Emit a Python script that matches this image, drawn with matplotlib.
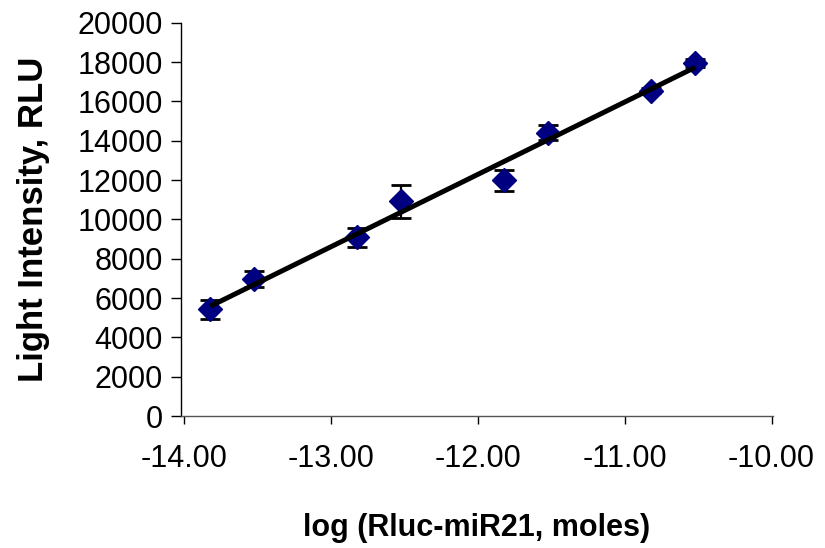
import numpy as np
import matplotlib
matplotlib.use("Agg")
import matplotlib.pyplot as plt

# Data
log_moles = [-13.82, -13.52, -12.82, -12.52, -11.82, -11.52, -10.82, -10.52]
intensity = [5420, 6950, 9080, 10930, 11980, 14400, 16540, 17960]
errors = [500, 400, 500, 840, 530, 390, 120, 200]
x_ticks = [-14.0, -13.0, -12.0, -11.0, -10.0]
y_ticks = [0, 2000, 4000, 6000, 8000, 10000, 12000, 14000, 16000, 18000, 20000]

plt.rcParams['font.family'] = ['Liberation Sans', 'DejaVu Sans']

fig = plt.figure(figsize=(8.25, 5.48), dpi=100)
ax = fig.add_axes([181/825, 132/548, (773-181)/825, (416-22.7)/548])

ax.errorbar(log_moles, intensity, yerr=errors, fmt='D', color='#000080',
            markersize=12, ecolor='black', elinewidth=1.6, capsize=7,
            capthick=2, zorder=3)

# linear trend line
slope, intercept = np.polyfit(log_moles, intensity, 1)
xs = np.array([log_moles[0], log_moles[-1]])
ax.plot(xs, slope * xs + intercept, color='black', lw=3.6, zorder=4,
        solid_capstyle='butt')

ax.set_xlim(-14.02, -9.99)
ax.set_ylim(0, 20000)
ax.set_xticks(x_ticks)
ax.set_xticklabels([f"{v:.2f}" for v in x_ticks])
ax.set_yticks(y_ticks)
ax.set_yticklabels([str(v) for v in y_ticks])

for s in ['top', 'right']:
    ax.spines[s].set_visible(False)
ax.spines['left'].set_color('black')
ax.spines['left'].set_linewidth(1.0)
ax.spines['bottom'].set_color('#555555')
ax.spines['bottom'].set_linewidth(1.0)

ax.tick_params(axis='y', direction='out', length=7, width=1, pad=6,
               labelsize=22, colors='black')
ax.tick_params(axis='x', direction='out', length=6, width=1, pad=14,
               labelsize=22, colors='black')

ax.set_xlabel('log (Rluc-miR21, moles)', fontsize=22, fontweight='bold',
              labelpad=28)
ax.set_ylabel('Light Intensity, RLU', fontsize=25, fontweight='bold',
              labelpad=20)

fig.savefig('out.png', dpi=100)
